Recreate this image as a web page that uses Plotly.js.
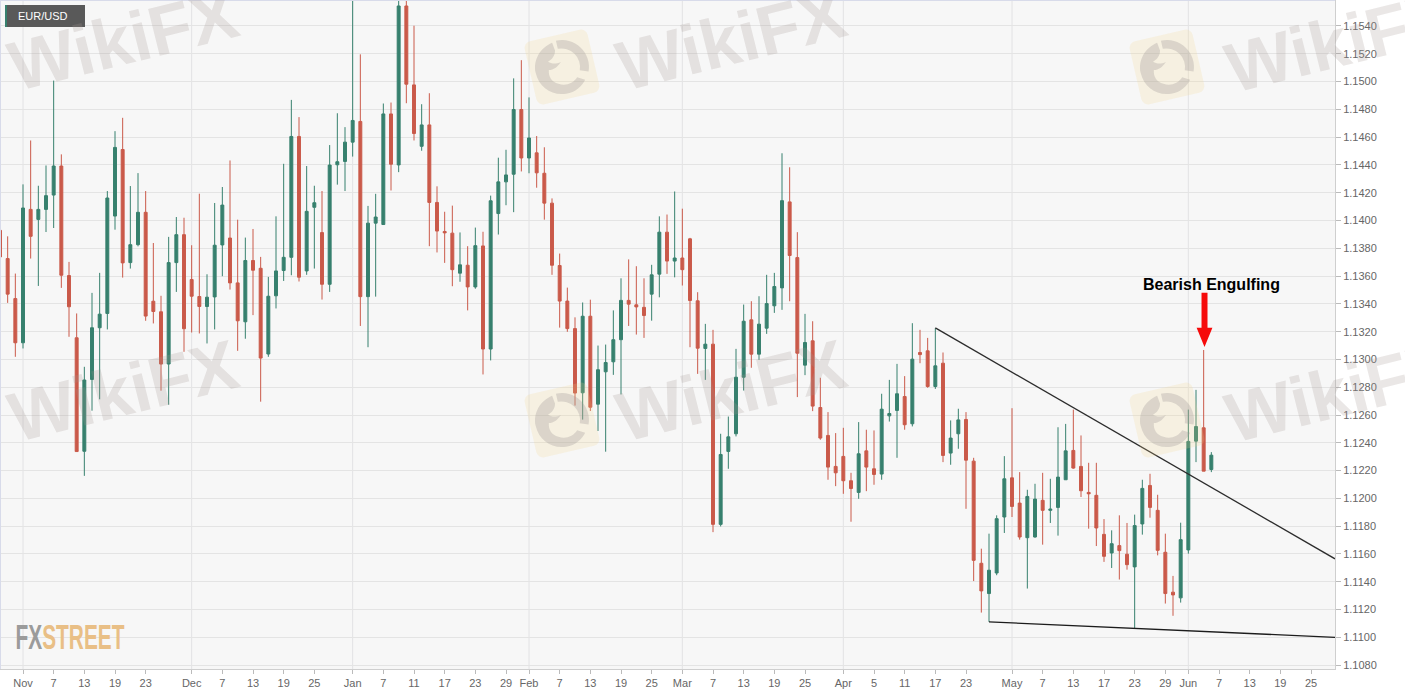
<!DOCTYPE html>
<html><head><meta charset="utf-8">
<script src="https://cdn.plot.ly/plotly-3.0.1.min.js"></script>
<style>html,body{margin:0;padding:0;background:#fff}#c{width:1405px;height:695px}</style>
</head><body><div id="c"></div>
<script>
const opens=[1.13929,1.13726,1.13438,1.13120,1.14080,1.14008,1.14080,1.14183,1.14392,1.13604,
1.13156,1.12339,1.12856,1.13228,1.13331,1.14032,1.14511,1.13697,1.13826,1.14059,
1.13419,1.13343,1.12967,1.13697,1.13898,1.13575,1.13453,1.13381,1.13450,1.13824,
1.13874,1.13551,1.13271,1.13712,1.13656,1.13039,1.13458,1.13640,1.13735,1.14605,
1.13637,1.14095,1.13913,1.13541,1.14401,1.14425,1.14564,1.14713,1.13452,1.13981,
1.13971,1.14767,1.14400,1.15544,1.14976,1.14534,1.14688,1.14130,1.13921,1.13909,
1.13621,1.13678,1.13522,1.13817,1.13075,1.14050,1.14278,1.14333,1.14799,1.14450,
1.14487,1.14340,1.14125,1.13676,1.13420,1.13222,1.12760,1.13311,1.12678,1.12911,
1.12983,1.13142,1.13425,1.13393,1.13375,1.13470,1.13614,1.13916,1.13708,1.13730,
1.13868,1.13422,1.13079,1.13110,1.11813,1.12338,1.12465,1.12872,1.13285,1.13038,
1.13225,1.13386,1.13515,1.14134,1.13733,1.12959,1.13134,1.12654,1.12453,1.12230,
1.12302,1.12127,1.12043,1.12342,1.12213,1.12175,1.12594,1.12633,1.12733,1.12537,
1.13050,1.13062,1.12805,1.12973,1.12326,1.12465,1.12568,1.12268,1.11533,1.11315,
1.11463,1.11866,1.12148,1.11966,1.11717,1.11722,1.11986,1.11914,1.11935,1.12134,
1.12345,1.12230,1.12043,1.12022,1.11741,1.11607,1.11660,1.11598,1.11507,1.11816,
1.12093,1.11914,1.11612,1.11325,1.11284,1.11629,1.12412,1.12508,1.12208];
const closes=[1.13738,1.13470,1.13120,1.14090,1.13886,1.14080,1.14179,1.14392,1.13606,1.13379,
1.12337,1.12852,1.13228,1.13326,1.14162,1.14526,1.13695,1.13826,1.14059,1.13312,
1.13345,1.12967,1.13697,1.13898,1.13221,1.13455,1.13381,1.13448,1.13822,1.14111,
1.13551,1.13278,1.13712,1.13642,1.13010,1.13455,1.13637,1.13735,1.14605,1.13592,
1.14066,1.14128,1.13541,1.14399,1.14423,1.14564,1.14720,1.13452,1.13981,1.14025,
1.14767,1.14405,1.15544,1.14981,1.14626,1.14688,1.14130,1.13924,1.13911,1.13646,
1.13681,1.13522,1.13819,1.13075,1.14142,1.14278,1.14328,1.14799,1.14450,1.14594,
1.14343,1.14125,1.13678,1.13420,1.13222,1.12758,1.13311,1.12656,1.12926,1.12978,
1.13142,1.13425,1.13398,1.13378,1.13316,1.13609,1.13916,1.13708,1.13730,1.13646,
1.13424,1.13081,1.13110,1.11813,1.12316,1.12443,1.12872,1.13275,1.13038,1.13254,
1.13402,1.13525,1.14143,1.13748,1.13045,1.13122,1.12664,1.12434,1.12225,1.12184,
1.12127,1.12071,1.12321,1.12225,1.12172,1.12642,1.12611,1.12753,1.12530,1.13002,
1.13035,1.12805,1.12954,1.12309,1.12434,1.12565,1.12275,1.11554,1.11334,1.11483,
1.11854,1.12141,1.11942,1.11722,1.12014,1.11995,1.11914,1.11923,1.12153,1.12342,
1.12218,1.12055,1.12033,1.11787,1.11583,1.11674,1.11624,1.11523,1.11804,1.12072,
1.11935,1.11626,1.11315,1.11305,1.11703,1.12410,1.12517,1.12196,1.12311];
const highs=[1.14169,1.13886,1.13618,1.14260,1.14576,1.14250,1.14396,1.15007,1.14476,1.13702,
1.13331,1.12947,1.13479,1.13623,1.14212,1.14643,1.14739,1.14248,1.14341,1.14212,
1.13838,1.13458,1.13882,1.14025,1.14020,1.13822,1.14193,1.13613,1.14126,1.14241,
1.14432,1.14006,1.13877,1.13939,1.13738,1.13594,1.14030,1.14408,1.14868,1.14744,
1.14392,1.14250,1.14212,1.14543,1.14772,1.14672,1.15650,1.15196,1.14105,1.14192,
1.14842,1.14849,1.15620,1.15620,1.15402,1.14837,1.14916,1.14246,1.14063,1.14107,
1.13914,1.13815,1.13949,1.13919,1.14179,1.14452,1.14509,1.15023,1.15154,1.14886,
1.14608,1.14527,1.14159,1.13762,1.13517,1.13303,1.13410,1.13430,1.13100,1.13107,
1.13353,1.13584,1.13720,1.13671,1.13584,1.13681,1.14030,1.14043,1.14209,1.14085,
1.13875,1.13484,1.13256,1.13213,1.12465,1.12589,1.13076,1.13395,1.13419,1.13455,
1.13609,1.13623,1.14484,1.14383,1.13916,1.13328,1.13275,1.12868,1.12621,1.12470,
1.12508,1.12184,1.12549,1.12494,1.12489,1.12753,1.12853,1.12968,1.12880,1.13261,
1.13213,1.13155,1.13225,1.13050,1.12561,1.12645,1.12621,1.12292,1.11638,1.11746,
1.11878,1.12304,1.12649,1.12189,1.12062,1.12105,1.12184,1.12141,1.12512,1.12536,
1.12639,1.12453,1.12256,1.12256,1.11851,1.11770,1.11878,1.11823,1.11883,1.12134,
1.12177,1.12026,1.11746,1.11442,1.11825,1.12639,1.12781,1.13068,1.12333];
const lows=[1.13606,1.13407,1.13019,1.13079,1.13726,1.13529,1.13917,1.13946,1.13515,1.13163,
1.12337,1.12162,1.12631,1.12713,1.13216,1.13934,1.13589,1.13654,1.13814,1.13278,
1.13259,1.12775,1.12674,1.13486,1.13055,1.13194,1.13187,1.13115,1.13216,1.13599,
1.13503,1.13062,1.13149,1.13319,1.12696,1.13019,1.13367,1.13565,1.13606,1.13561,
1.13609,1.13654,1.13431,1.13486,1.14258,1.14212,1.14460,1.13241,1.13088,1.13452,
1.13970,1.14216,1.14348,1.14844,1.14576,1.14502,1.13815,1.13770,1.13695,1.13527,
1.13559,1.13353,1.13509,1.12892,1.12993,1.13899,1.14110,1.14060,1.14353,1.14340,
1.14236,1.14006,1.13609,1.13229,1.13199,1.12668,1.12567,1.12629,1.12485,1.12336,
1.12889,1.12748,1.13241,1.13179,1.13155,1.13279,1.13447,1.13616,1.13591,1.13532,
1.13088,1.12896,1.12853,1.11757,1.11798,1.12213,1.12446,1.12776,1.12940,1.12997,
1.13184,1.13335,1.13357,1.13419,1.12729,1.12887,1.12628,1.12422,1.12134,1.12088,
1.12033,1.11832,1.11997,1.12052,1.12098,1.12134,1.12553,1.12292,1.12494,1.12518,
1.12973,1.12796,1.12788,1.12261,1.12242,1.12357,1.11925,1.11405,1.11178,1.11111,
1.11447,1.11751,1.11866,1.11703,1.11351,1.11717,1.11667,1.11823,1.11732,1.12134,
1.12213,1.12010,1.11782,1.11657,1.11543,1.11499,1.11416,1.11487,1.11064,1.11739,
1.11861,1.11590,1.11243,1.11155,1.11250,1.11602,1.12261,1.12196,1.12189];

const xTickIndex=[3,7,11,15,19,25,29,33,37,41,46,50,54,58,62,66,69,73,77,81,85,89,93,97,101,105,110,114,118,122,126,132,136,140,144,148,152,155,159,163,167,171];
const xTickText=['Nov','7','13','19','23','Dec','7','13','19','25','Jan','7','11','17','23','29','Feb','7','13','19','25','Mar','7','13','19','25','Apr','5','11','17','23','May','7','13','17','23','29','Jun','7','13','19','25'];
const monthIndex=[3,25,46,69,89,110,132,155];
const yTicks=[1.1080,1.1100,1.1120,1.1140,1.1160,1.1180,1.1200,1.1220,1.1240,1.1260,1.1280,1.1300,1.1320,1.1340,1.1360,1.1380,1.1400,1.1420,1.1440,1.1460,1.1480,1.1500,1.1520,1.1540];
const upperTrendX=[122,174.13], upperTrendY=[1.13227,1.11565];
const lowerTrendX=[129,174.13], lowerTrendY=[1.11111,1.11000];
const arrowX=[156.72,157.5,157.5,158.14,157.11,156.08,156.72];
const arrowY=[1.13480,1.13480,1.13228,1.13228,1.13089,1.13228,1.13228];

const W=1335,H=669;
const px=v=>v/W, py=v=>1-v/H;
const GREEN='#37806e', RED='#ca5a4a';
const idx=opens.map((_,i)=>i);

const logoSvg=`<svg xmlns="http://www.w3.org/2000/svg" width="100" height="100" viewBox="0 0 100 100"><g transform="rotate(-13 50 50)"><rect x="12" y="12" width="76" height="76" rx="8" fill="#f6d98a" fill-opacity="0.2"/><g transform="translate(50 50) scale(1.22) translate(-50 -50)"><path d="M50 24a26 26 0 0 1 24 36l-8-3a18 18 0 0 0-16-25z M46 25c-12 2-22 12-22 25 0 14 10 25 24 26 9 1 17-4 21-9l-7-4c-5 5-13 6-19 2-6-3-8-9-6-15 4 1 9-1 13-5-5 1-9 0-12-3 4-1 8-4 9-9z" fill="#9a9494" fill-opacity="0.3"/></g></g></svg>`;
const logoSrc='data:image/svg+xml;utf8,'+encodeURIComponent(logoSvg);
const logoCentres=[[562,67],[1167,67],[562,420],[1167,420]];
const images=logoCentres.map(c=>({source:logoSrc,xref:'paper',yref:'paper',x:px(c[0]),y:py(c[1]),sizex:85/W,sizey:85/H,xanchor:'center',yanchor:'middle',sizing:'stretch',layer:'above'}));

const markCentres=[[124,40],[731,40],[1340,42],[124,391],[731,391],[1340,392]];
const annotations=markCentres.map(c=>({xref:'paper',yref:'paper',x:px(c[0]),y:py(c[1]),text:'WikiFX',showarrow:false,textangle:-14,xanchor:'center',yanchor:'middle',font:{family:'"Liberation Sans",Arial,sans-serif',size:70,color:'rgba(165,150,145,0.23)',weight:700}}));
annotations.push(
 {xref:'paper',yref:'paper',x:px(15.5),y:py(16),text:'EUR/USD',showarrow:false,xanchor:'left',yanchor:'middle',font:{family:'"Liberation Sans",Arial,sans-serif',size:11,color:'#fff'}},
 {xref:'paper',yref:'paper',x:px(1211.5),y:py(284),text:'<b>Bearish Engulfing</b>',showarrow:false,xanchor:'center',yanchor:'middle',font:{family:'"Liberation Sans",Arial,sans-serif',size:16,color:'#000'}},
 {xref:'paper',yref:'paper',x:px(69.5),y:py(636),text:'<b><span style="color:#9b9b9b">FX</span><span style="color:#e9bf86">STREET</span></b>',showarrow:false,xanchor:'center',yanchor:'middle',font:{family:'"Liberation Sans Narrow","Liberation Sans",sans-serif',size:36,color:'#e9bf86'}}
);

const shapes=monthIndex.map(m=>({type:'line',xref:'x',yref:'paper',x0:m,x1:m,y0:0,y1:1,layer:'below',line:{color:'#e2e2e4',width:1}}));
shapes.push(
 {type:'line',xref:'paper',yref:'paper',x0:0,x1:1,y0:1,y1:1,layer:'above',line:{color:'#d8dbea',width:2}},
 {type:'line',xref:'paper',yref:'paper',x0:0,x1:0,y0:0,y1:1,layer:'above',line:{color:'#d8dbea',width:2}},
 {type:'rect',xref:'paper',yref:'paper',x0:px(5),x1:px(85),y0:py(27),y1:py(5),layer:'above',fillcolor:'#595959',line:{width:0}},
 {type:'rect',xref:'paper',yref:'paper',x0:px(5),x1:px(7),y0:py(27),y1:py(5),layer:'above',fillcolor:GREEN,line:{width:0}}
);

const traces=[
 {type:'candlestick',x:idx,open:opens,high:highs,low:lows,close:closes,hoverinfo:'none',showlegend:false,whiskerwidth:0,
  increasing:{line:{color:GREEN,width:1},fillcolor:GREEN},decreasing:{line:{color:RED,width:1},fillcolor:RED}},
 {type:'scatter',mode:'lines',x:upperTrendX,y:upperTrendY,hoverinfo:'none',showlegend:false,line:{color:'#2c2c2c',width:1.3}},
 {type:'scatter',mode:'lines',x:lowerTrendX,y:lowerTrendY,hoverinfo:'none',showlegend:false,line:{color:'#1c1c1c',width:1.3}},
 {type:'scatter',mode:'lines',x:arrowX,y:arrowY,fill:'toself',fillcolor:'#f60b0b',hoverinfo:'none',showlegend:false,line:{width:0,color:'#f60b0b'}}
];
const layout={
 width:1405,height:695,autosize:false,margin:{l:0,r:70,t:0,b:26,pad:0},
 paper_bgcolor:'#ffffff',plot_bgcolor:'#f7f7f7',showlegend:false,boxgap:0.45,
 font:{family:'"Liberation Sans",Arial,sans-serif',size:11,color:'#666'},
 xaxis:{type:'linear',range:[0,174.13],tickmode:'array',tickvals:xTickIndex,ticktext:xTickText,showgrid:false,zeroline:false,
  rangeslider:{visible:false},ticks:'outside',ticklen:4,tickcolor:'#bbb',showline:true,linecolor:'#cfcfcf',linewidth:1,tickfont:{size:11,color:'#666'},fixedrange:true},
 yaxis:{side:'right',range:[1.10772,1.15587],tickmode:'array',tickvals:yTicks,tickformat:'.4f',showgrid:true,gridcolor:'#e4e4e4',gridwidth:1,zeroline:false,
  ticks:'outside',ticklen:5,tickcolor:'#bbb',showline:true,linecolor:'#cfcfcf',linewidth:1,tickfont:{size:11,color:'#666'},fixedrange:true},
 shapes,annotations,images
};
Plotly.newPlot('c',traces,layout,{displayModeBar:false,staticPlot:true}).then(()=>{
 document.querySelectorAll('.annotation-text-g text').forEach(t=>{
  if(t.textContent.trim()==='FXSTREET'){
   const b=t.getBBox(),cx=b.x+b.width/2,s=109/b.width;
   t.setAttribute('transform',`translate(${cx} 0) scale(${s} 1) translate(${-cx} 0)`);
  }
 });
});
</script></body></html>
